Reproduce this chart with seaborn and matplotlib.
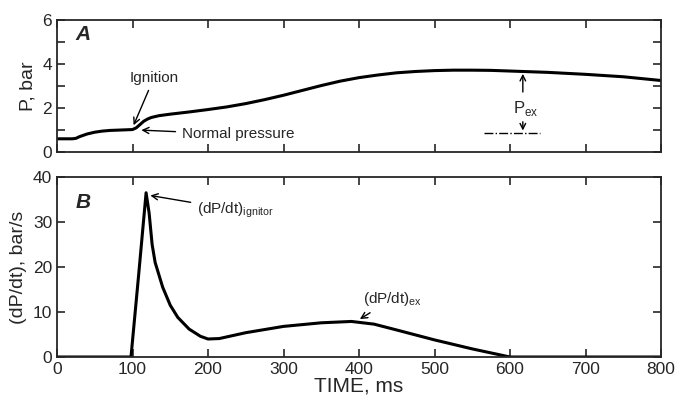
import matplotlib
matplotlib.use("Agg")
import matplotlib.pyplot as plt
import seaborn as sns

t_p = [0, 20, 25, 30, 40, 50, 60, 70, 85, 100, 105, 110, 115, 120, 125, 135, 150, 175, 200, 225, 250, 275, 300, 325, 350,
       375, 400, 425, 450, 475, 500, 525, 550, 575, 600, 650, 700, 750, 800]
p_bar = [0.6, 0.6, 0.62, 0.7, 0.82, 0.9, 0.95, 0.98, 1.0, 1.02, 1.1, 1.25, 1.4, 1.5, 1.57, 1.65, 1.72, 1.82, 1.93, 2.05,
         2.2, 2.38, 2.58, 2.8, 3.02, 3.22, 3.38, 3.5, 3.6, 3.66, 3.7, 3.72, 3.72, 3.71, 3.68, 3.62, 3.53, 3.42, 3.25]
t_d = [0, 98, 108, 118, 122, 126, 130, 140, 150, 160, 175, 190, 200, 215, 250, 300, 350, 390, 420, 450, 500, 550, 600, 800]
dpdt = [0, 0, 18, 36.5, 32, 25, 21, 15.5, 11.5, 8.8, 6.2, 4.6, 4.0, 4.1, 5.4, 6.8, 7.6, 7.9, 7.3, 6.0, 3.8, 1.8, 0, 0]

sns.set_style("ticks")
plt.rcParams['font.family'] = ['Liberation Sans', 'DejaVu Sans']
fig = plt.figure(figsize=(6.78, 4.08), dpi=100)
ax1 = fig.add_axes([57/678, 1-152/408, 604/678, 132/408])
ax2 = fig.add_axes([57/678, 1-357/408, 604/678, 180/408])

sns.lineplot(x=t_p, y=p_bar, ax=ax1, color='black', lw=2.2)
sns.lineplot(x=t_d, y=dpdt, ax=ax2, color='black', lw=2.2)

for ax in (ax1, ax2):
    ax.set_xlim(0, 800)
    ax.set_xticks(range(0, 801, 100))
    ax.tick_params(direction='in', top=True, right=True, length=6, width=1.2, labelsize=12.5)
    for s in ax.spines.values():
        s.set_linewidth(1.3)
ax1.set_ylim(0, 6)
ax1.set_yticks(range(0, 7))
ax1.set_yticklabels(['0', '', '2', '', '4', '', '6'])
ax1.set_xticklabels([])
ax1.set_ylabel('P, bar', fontsize=14)
ax2.set_ylim(0, 40)
ax2.set_yticks(range(0, 41, 10))
ax2.set_xticklabels(['0'] + [str(v) for v in range(100, 801, 100)])
ax2.set_ylabel('(dP/dt), bar/s', fontsize=14)
ax2.set_xlabel('TIME, ms', fontsize=15, labelpad=0)

ax1.text(25, 5.1, 'A', fontsize=15, style='italic', fontweight='bold')
ax2.text(25, 33, 'B', fontsize=15, style='italic', fontweight='bold')
ax1.annotate('Ignition', xy=(100, 1.1), xytext=(96, 3.2), fontsize=11,
             arrowprops=dict(arrowstyle='->', color='black', lw=1))
ax1.annotate('Normal pressure', xy=(108, 1.0), xytext=(165, 0.8), fontsize=11, va='center',
             arrowprops=dict(arrowstyle='->', color='black', lw=1))
ax1.annotate('', xy=(617, 3.68), xytext=(617, 2.6), arrowprops=dict(arrowstyle='->', color='black', lw=1))
ax1.annotate('', xy=(617, 0.85), xytext=(617, 1.5), arrowprops=dict(arrowstyle='->', color='black', lw=1))
ax1.plot([565, 640], [0.85, 0.85], color='black', lw=1, ls='-.')
ax1.text(604, 1.75, r'P$_{\mathregular{ex}}$', fontsize=12)
ax2.annotate(r'(dP/dt)$_{\mathregular{ignitor}}$', xy=(120, 36), xytext=(185, 32), fontsize=11,
             arrowprops=dict(arrowstyle='->', color='black', lw=1))
ax2.annotate(r'(dP/dt)$_{\mathregular{ex}}$', xy=(398, 8.1), xytext=(405, 12), fontsize=11,
             arrowprops=dict(arrowstyle='->', color='black', lw=1))
fig.savefig('out.png', dpi=100)
